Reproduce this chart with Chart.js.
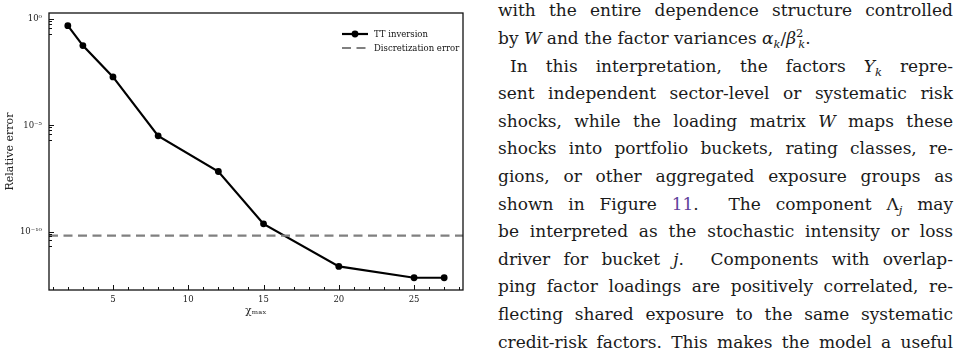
<!DOCTYPE html>
<html lang="en">
<head>
    <meta charset="UTF-8">
    <title>TT inversion error</title>
    <script src="https://cdn.jsdelivr.net/npm/chart.js"></script>
    <style>
* {
    margin: 0;
    padding: 0;
    box-sizing: border-box;
}

body {
    width: 965px;
    height: 349px;
    overflow: hidden;
    background: #fff;
    position: relative;
}

#plot {
    position: absolute;
    left: 0;
    top: 0;
    width: 470px;
    height: 349px;
}

#text {
    position: absolute;
    left: 498px;
    top: -2.6px;
    width: 455px;
    font-family: "DejaVu Serif", "Liberation Serif", "Times New Roman", "Noto Serif", serif;
    font-size: 17px;
    color: #1a1a1a;
}

#text .ln {
    height: 27.6px;
    line-height: 27.6px;
    white-space: nowrap;
    text-align: justify;
    text-align-last: justify;
}

#text .ln.end {
    text-align-last: left;
}

#text .ln.indent {
    padding-left: 12px;
}

#text sub, #text sup {
    font-size: 0.68em;
    line-height: 0;
}

.ref {
    color: #60409a;
}
    </style>
</head>
<body>
    <div id="plot"><canvas id="errChart"></canvas></div>

    <div id="text">
        <div class="ln">with the entire dependence structure controlled</div>
        <div class="ln end">by <i>W</i> and the factor variances <i>α<sub>k</sub></i>/<i>β</i><sup>2</sup><sub style="margin-left:-0.45em"><i>k</i></sub>.</div>
        <div class="ln indent">In this interpretation, the factors <i>Y<sub>k</sub></i> repre-</div>
        <div class="ln">sent independent sector-level or systematic risk</div>
        <div class="ln">shocks, while the loading matrix <i>W</i> maps these</div>
        <div class="ln">shocks into portfolio buckets, rating classes, re-</div>
        <div class="ln">gions, or other aggregated exposure groups as</div>
        <div class="ln">shown in Figure <span class="ref">11</span>.&nbsp; The component Λ<sub><i>j</i></sub> may</div>
        <div class="ln">be interpreted as the stochastic intensity or loss</div>
        <div class="ln">driver for bucket <i>j</i>.&nbsp; Components with overlap-</div>
        <div class="ln">ping factor loadings are positively correlated, re-</div>
        <div class="ln">flecting shared exposure to the same systematic</div>
        <div class="ln">credit-risk factors. This makes the model a useful</div>
    </div>

    <script>
        // data
        const chiMax = [2, 3, 5, 8, 12, 15, 20, 25, 27];
        const ttError = [0.49, 0.0565, 1.9e-3, 3.2e-6, 6.7e-8, 2.3e-10, 2.3e-12, 6.7e-13, 6.7e-13];
        const discError = 6.5e-11;

        // axis ranges and ticks
        const xMin = 0.75, xMax = 28.25;
        const yMin = Math.pow(10, -12.75), yMax = Math.pow(10, 0.285);
        const xMajor = [5, 10, 15, 20, 25];
        const yMajor = [1, 1e-5, 1e-10];
        const yTickLabels = ['10⁰', '10⁻⁵', '10⁻¹⁰'];
        const yMinorSubs = [0.8, 0.6, 0.4, 0.2];

        const serif = '"DejaVu Serif", "Liberation Serif", "Times New Roman", serif';

        // spines + inward ticks, matplotlib style
        const axesStyle = {
            id: 'axesStyle',
            afterDatasetsDraw(chart) {
                const ctx = chart.ctx;
                const a = chart.chartArea;
                const xs = chart.scales.x, ys = chart.scales.y;
                ctx.save();
                ctx.strokeStyle = '#111';
                ctx.lineWidth = 1.3;
                ctx.strokeRect(a.left, a.top, a.right - a.left, a.bottom - a.top);

                ctx.lineWidth = 1;
                ctx.beginPath();
                for (let v = 1; v <= 28; v++) {
                    const px = Math.round(xs.getPixelForValue(v)) + 0.5;
                    const len = xMajor.includes(v) ? 5 : 3;
                    ctx.moveTo(px, a.bottom);
                    ctx.lineTo(px, a.bottom - len);
                }
                yMajor.forEach(m => {
                    let py = Math.round(ys.getPixelForValue(m)) + 0.5;
                    ctx.moveTo(a.left, py);
                    ctx.lineTo(a.left + 5, py);
                    yMinorSubs.forEach(s => {
                        py = Math.round(ys.getPixelForValue(m * s)) + 0.5;
                        ctx.moveTo(a.left, py);
                        ctx.lineTo(a.left + 3, py);
                    });
                });
                ctx.stroke();
                ctx.restore();
            },
            afterDraw(chart) {
                // legend, upper right inside the axes
                const ctx = chart.ctx;
                const a = chart.chartArea;
                const ds = chart.data.datasets;
                const x0 = a.right - 121, x1 = a.right - 95;
                const rows = [a.top + 21, a.top + 35];
                ctx.save();
                ctx.font = '8.5px ' + serif;
                ctx.textBaseline = 'middle';
                ctx.fillStyle = '#111';
                ds.forEach((d, i) => {
                    const y = rows[i];
                    ctx.beginPath();
                    ctx.strokeStyle = d.borderColor;
                    ctx.lineWidth = d.borderWidth;
                    ctx.setLineDash(d.borderDash || []);
                    ctx.moveTo(x0, y);
                    ctx.lineTo(x1, y);
                    ctx.stroke();
                    ctx.setLineDash([]);
                    if (d.pointRadius > 0) {
                        ctx.beginPath();
                        ctx.fillStyle = d.pointBackgroundColor;
                        ctx.arc((x0 + x1) / 2, y, d.pointRadius, 0, Math.PI * 2);
                        ctx.fill();
                    }
                    ctx.fillStyle = '#111';
                    ctx.fillText(d.label, x1 + 6, y + 0.5);
                });
                ctx.restore();
            }
        };

        const ctx = document.getElementById('errChart').getContext('2d');
        const chart = new Chart(ctx, {
            type: 'line',
            data: {
                datasets: [
                    {
                        label: 'TT inversion',
                        data: chiMax.map((x, i) => ({ x: x, y: ttError[i] })),
                        borderColor: '#000',
                        borderWidth: 2.2,
                        pointRadius: 3.4,
                        pointBackgroundColor: '#000',
                        pointBorderWidth: 0,
                        tension: 0,
                        order: 1
                    },
                    {
                        label: 'Discretization error',
                        data: [{ x: xMin, y: discError }, { x: xMax, y: discError }],
                        borderColor: '#808080',
                        borderWidth: 2.2,
                        borderDash: [9, 5.5],
                        pointRadius: 0,
                        order: 0
                    }
                ]
            },
            options: {
                responsive: true,
                maintainAspectRatio: false,
                animation: false,
                layout: { padding: { left: 0, top: 13, right: 7, bottom: 0 } },
                plugins: {
                    legend: { display: false },
                    tooltip: { enabled: false }
                },
                scales: {
                    x: {
                        type: 'linear',
                        min: xMin,
                        max: xMax,
                        grid: { display: false, drawTicks: false },
                        border: { display: false },
                        afterBuildTicks: s => { s.ticks = xMajor.map(v => ({ value: v })); },
                        afterFit: s => { s.height = 59; },
                        ticks: {
                            padding: 5,
                            maxRotation: 0,
                            color: '#222',
                            font: { family: serif, size: 8.5 }
                        },
                        title: {
                            display: true,
                            text: 'χₘₐₓ',
                            color: '#222',
                            font: { family: serif, size: 10.5 },
                            padding: { top: 0, bottom: 31 }
                        }
                    },
                    y: {
                        type: 'logarithmic',
                        min: yMin,
                        max: yMax,
                        grid: { display: false, drawTicks: false },
                        border: { display: false },
                        afterBuildTicks: s => { s.ticks = yMajor.map(v => ({ value: v })); },
                        afterFit: s => { s.width = 49; },
                        ticks: {
                            padding: 7,
                            color: '#222',
                            font: { family: serif, size: 8.5 },
                            callback: v => {
                                const i = yMajor.indexOf(v);
                                return i >= 0 ? yTickLabels[i] : '';
                            }
                        },
                        title: {
                            display: true,
                            text: 'Relative error',
                            color: '#222',
                            font: { family: serif, size: 11 },
                            padding: { top: 4, bottom: 0 }
                        }
                    }
                }
            },
            plugins: [axesStyle]
        });
    </script>
</body>
</html>
